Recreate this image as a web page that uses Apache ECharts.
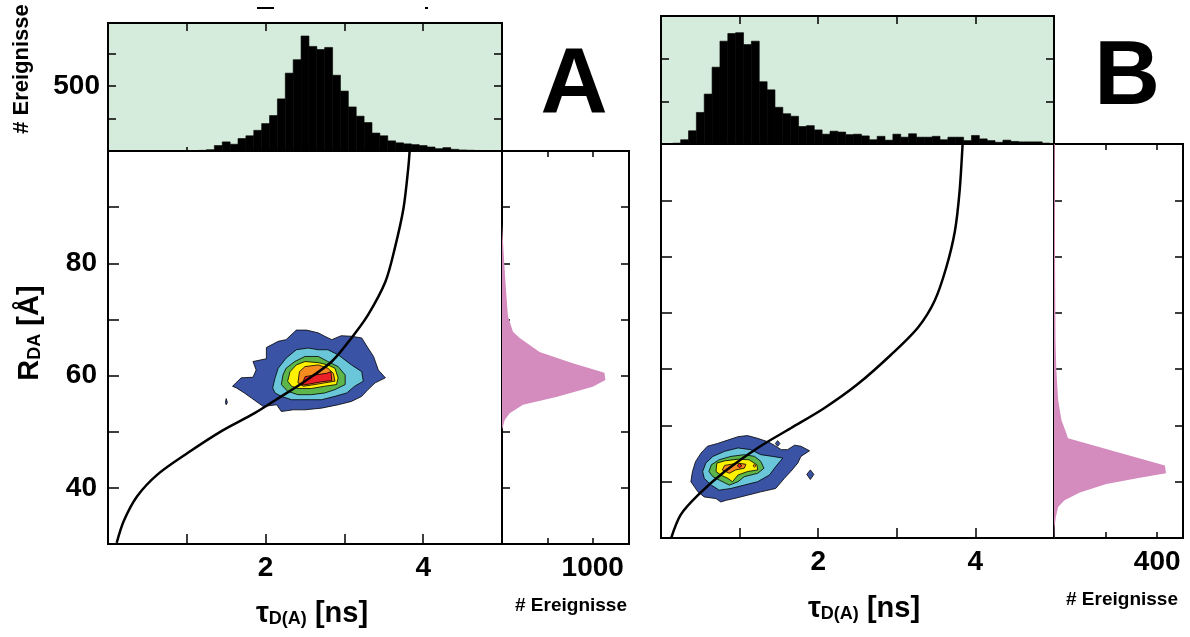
<!DOCTYPE html>
<html>
<head>
<meta charset="utf-8">
<script src="https://cdn.jsdelivr.net/npm/echarts@6/dist/echarts.min.js"></script>
<style>
  html, body { margin: 0; padding: 0; background: #fff; }
  #chart { width: 1190px; height: 637px; }
</style>
</head>
<body>
<div id="chart"></div>
<script>
// 直方图的 bin 中心 (ns)
const tauBins = [0.1, 0.2, 0.3, 0.4, 0.5, 0.6, 0.7, 0.8, 0.9, 1.0, 1.1, 1.2, 1.3, 1.4, 1.5, 1.6, 1.7, 1.8, 1.9,
  2.0, 2.1, 2.2, 2.3, 2.4, 2.5, 2.6, 2.7, 2.8, 2.9, 3.0, 3.1, 3.2, 3.3, 3.4, 3.5, 3.6, 3.7, 3.8, 3.9,
  4.0, 4.1, 4.2, 4.3, 4.4, 4.5, 4.6, 4.7, 4.8, 4.9];
const binWidth = 0.1;

// A: 上方直方图
const histA = [0, 0, 0, 0, 0, 0, 0, 0, 0, 0, 2, 5, 10, 42, 70, 52, 96, 117, 159,
  211, 273, 401, 599, 703, 885, 805, 781, 797, 583, 461, 339, 268, 219, 138, 117, 78, 63, 55, 49,
  42, 31, 18, 26, 13, 8, 6, 4, 3, 2];
// B: 上方直方图
const histB = [0, 2, 10, 31, 74, 117, 180, 241, 259, 261, 233, 241, 146, 127, 86, 71, 65, 41, 43,
  33, 23, 30, 28, 22, 23, 19, 10, 18, 9, 23, 16, 24, 16, 16, 18, 10, 16, 16, 8,
  20, 12, 8, 4, 9, 6, 5, 5, 5, 2];

// 右侧 R_DA 分布
const profA_R = [87, 80, 75, 70.5, 67.8, 66.7, 64.2, 62.2, 60.5, 59.2, 58.0, 56.2, 54.8, 53.3, 52.1, 50.9, 50.3];
const profA_n = [0, 25, 45, 66, 121, 195, 414, 780, 1129, 1140, 1000, 598, 231, 85, 30, 10, 0];
const profB_R = [100, 80, 65, 59.9, 54.5, 50.9, 48.6, 47.7, 42.9, 41.5, 40.7, 39.6, 38.1, 36.7, 35.5, 33.7, 31.9, 30];
const profB_n = [3, 4, 6, 9, 16, 29, 48, 54, 430, 434, 333, 203, 100, 41, 16, 7, 2, 1];

// 静态 FRET 线
const curveA_tau = [0.11, 0.20, 0.37, 0.63, 1.01, 1.44, 1.86, 2.20, 2.50, 2.84, 3.09, 3.30, 3.52, 3.64, 3.75, 3.81, 3.83];
const curveA_R = [30.2, 34.1, 38.5, 42.4, 46.2, 50.1, 53.3, 56.3, 59.0, 62.5, 66.7, 70.8, 76.7, 82.7, 89.8, 96.9, 100.4];
const curveB_tau = [0.13, 0.25, 0.47, 0.81, 1.23, 1.65, 2.08, 2.50, 2.93, 3.27, 3.48, 3.63, 3.74, 3.80, 3.84];
const curveB_R = [30, 34.1, 37.6, 41.8, 46.0, 49.5, 53.1, 57.3, 62.6, 67.4, 72.1, 78.1, 84.6, 91.8, 100.7];

// 等高线 (tau, R)
const blueA = [[1.58,58.1],[1.69,59.6],[1.84,59.7],[1.88,61.0],[1.84,62.5],[2.01,63.0],[2.01,65.0],[2.16,66.1],[2.26,66.4],
  [2.39,68.1],[2.52,68.1],[2.67,67.6],[2.75,67.0],[2.84,66.4],[2.96,67.1],[3.09,67.0],[3.22,66.7],[3.30,64.9],[3.37,63.4],
  [3.43,61.0],[3.52,59.6],[3.39,58.7],[3.30,57.5],[3.22,56.3],[3.09,55.4],[2.92,54.8],[2.71,54.2],[2.50,53.9],[2.35,53.9],
  [2.20,53.6],[2.14,54.8],[1.97,54.5],[1.82,56.0],[1.73,56.9],[1.63,57.8]];
const dotA = [[1.49,55.2],[1.50,55.9],[1.515,55.2],[1.50,54.8]];
const cyanA = [[2.09,57.8],[2.12,59.6],[2.16,61.3],[2.26,63.1],[2.39,64.6],[2.54,64.9],[2.67,64.6],[2.79,64.6],[2.92,63.7],
  [3.09,61.9],[3.22,60.7],[3.24,59.0],[3.13,58.1],[3.03,56.9],[2.88,56.3],[2.71,55.7],[2.50,55.7],[2.33,55.7],[2.20,56.3],[2.12,56.9]];
const greenA = [[2.20,58.4],[2.22,60.1],[2.26,61.3],[2.37,62.5],[2.50,63.4],[2.67,63.4],[2.79,62.5],[2.92,61.6],[3.01,60.1],
  [3.01,58.4],[2.88,57.5],[2.75,56.9],[2.58,56.6],[2.41,56.6],[2.28,57.2]];
const yellowA = [[2.28,59.0],[2.31,60.7],[2.39,61.9],[2.50,62.5],[2.67,62.3],[2.79,61.9],[2.88,61.3],[2.92,59.6],[2.90,58.4],
  [2.75,58.1],[2.58,57.7],[2.41,57.7],[2.33,58.1]];
const orangeA = [[2.41,58.7],[2.43,60.7],[2.50,61.6],[2.67,61.9],[2.79,61.3],[2.86,60.4],[2.88,59.0],[2.75,58.7],[2.58,58.3],[2.48,58.1]];
const redA = [[2.46,58.3],[2.50,59.8],[2.62,60.1],[2.77,60.4],[2.83,60.7],[2.84,59.1],[2.71,58.9],[2.56,58.5]];

const blueB = [[0.38,40.0],[0.40,41.8],[0.44,43.6],[0.51,45.1],[0.59,46.3],[0.72,46.8],[0.85,47.4],[0.98,48.0],[1.10,48.2],
  [1.23,47.7],[1.36,47.1],[1.44,46.5],[1.53,45.7],[1.61,45.7],[1.70,46.5],[1.78,46.3],[1.89,45.5],[1.78,44.5],[1.74,43.3],
  [1.65,41.8],[1.57,40.6],[1.46,38.8],[1.27,38.2],[1.10,37.6],[0.93,37.0],[0.83,36.7],[0.76,36.4],[0.70,37.0],[0.55,37.3],[0.47,38.2]];
const dotB1 = [[1.455,46.8],[1.484,47.3],[1.513,46.8],[1.484,46.3]];
const dotB2 = [[1.855,41.3],[1.90,42.1],[1.945,41.3],[1.90,40.4]];
const cyanB = [[0.53,41.8],[0.57,43.3],[0.66,44.5],[0.81,45.4],[0.98,46.0],[1.14,45.7],[1.27,44.8],[1.42,44.5],[1.55,44.2],
  [1.46,42.7],[1.38,41.2],[1.23,40.0],[1.06,39.4],[0.89,38.8],[0.74,38.5],[0.64,39.4],[0.55,40.6]];
const greenB = [[0.61,41.8],[0.64,43.0],[0.74,43.9],[0.89,44.5],[1.06,44.8],[1.19,44.5],[1.27,43.6],[1.31,42.4],[1.23,41.5],
  [1.06,40.9],[0.98,40.0],[0.87,39.4],[0.74,40.3],[0.66,40.9]];
const yellowB = [[0.70,41.8],[0.71,43.3],[0.81,43.7],[0.98,44.0],[1.12,43.9],[1.22,43.0],[1.23,42.1],[1.10,41.8],[0.98,41.2],
  [0.91,40.0],[0.85,40.6],[0.76,41.2]];
const orangeB = [[0.78,42.1],[0.81,42.9],[0.98,43.3],[1.08,43.1],[1.06,42.4],[0.95,42.1],[0.87,41.5]];
const orangeB2 = [[1.17,42.85],[1.19,43.1],[1.21,42.85],[1.19,42.6]];
const redB = [[0.97,42.85],[1.00,43.2],[1.03,42.85],[1.00,42.5]];

// 刻度标签
const tauLabels = [2, 4];
const rLabels = [40, 60, 80];
const histALabels = [500];
const profALabels = [1000];
const profBLabels = [400];

(function () {
    const FONT = '"Liberation Sans", Arial, sans-serif';
    const BLUE = '#3a53a4', CYAN = '#69c7d9', GREEN = '#5db64b', YELLOW = '#fff200', ORANGE = '#f68b1f', RED = '#ec2027';
    const PINK = '#d48bbd', MINT = '#d5ebdb';
    const my_echart = echarts.init(document.getElementById('chart'));

    const grids = [], xAxes = [], yAxes = [], series = [];
    function addGrid(left, top, width, height, bg) {
        grids.push({ left, top, width, height, show: true, borderColor: '#000', borderWidth: 2, backgroundColor: bg || 'transparent' });
        return grids.length - 1;
    }
    function axis(gi, pos, min, max, interval, tickLen, labels, margin) {
        return {
            type: 'value', gridIndex: gi, position: pos, min, max, interval,
            axisLine: { show: false, onZero: false }, splitLine: { show: false },
            axisTick: { show: tickLen > 0, inside: true, length: tickLen, lineStyle: { color: '#000', width: 1.5 } },
            axisLabel: {
                show: labels.length > 0, margin: margin || 10, color: '#000', fontFamily: FONT, fontWeight: 'bold', fontSize: 28,
                formatter: v => labels.indexOf(v) >= 0 ? String(v) : ''
            }
        };
    }
    // 一组面板: 上方直方图 + 主图 + 右侧分布
    function panel(x0, topY, mainY, w, h, rightW, histMax, histInterval, histLabels, profMax, profInterval, profLabels, rLab) {
        const gTop = addGrid(x0, topY, w, mainY - topY, MINT);
        const gMain = addGrid(x0, mainY, w, h);
        const gRight = addGrid(x0 + w, mainY, rightW, h);
        const ix = xAxes.length, iy = yAxes.length;
        xAxes.push(axis(gTop, 'bottom', 0, 5, 1, 4, []));
        xAxes.push(axis(gTop, 'top', 0, 5, 1, 8, []));
        xAxes.push(axis(gMain, 'bottom', 0, 5, 1, 10, tauLabels, 10));
        xAxes.push(axis(gMain, 'top', 0, 5, 1, 0, []));
        xAxes.push(axis(gRight, 'bottom', 0, profMax, profInterval, 6, profLabels, 10));
        xAxes.push(axis(gRight, 'top', 0, profMax, profInterval, 6, []));
        yAxes.push(axis(gTop, 'left', 0, histMax, histInterval, 8, histLabels, 8));
        yAxes.push(axis(gTop, 'right', 0, histMax, histInterval, 8, []));
        yAxes.push(axis(gMain, 'left', 30, 100, 10, 11, rLab, 11));
        yAxes.push(axis(gMain, 'right', 30, 100, 10, 0, []));
        yAxes.push(axis(gRight, 'left', 30, 100, 10, 8, []));
        yAxes.push(axis(gRight, 'right', 30, 100, 10, 8, []));
        return { top: [ix, iy], main: [ix + 2, iy + 2], right: [ix + 4, iy + 4] };
    }

    function histSeries(ax, values) {
        return {
            type: 'custom', xAxisIndex: ax[0], yAxisIndex: ax[1], silent: true,
            data: tauBins.map((c, i) => [c, values[i]]),
            renderItem: function (params, api) {
                const c = api.value(0), v = api.value(1);
                if (!v) return { type: 'group', children: [] };
                const p0 = api.coord([c - binWidth / 2, v]);
                const p1 = api.coord([c + binWidth / 2, 0]);
                return {
                    type: 'rect',
                    shape: { x: p0[0], y: p0[1], width: p1[0] - p0[0], height: p1[1] - p0[1] },
                    style: { fill: '#000', stroke: '#000', lineWidth: 0.6 }
                };
            }
        };
    }
    function profileSeries(ax, rs, ns) {
        return {
            type: 'custom', xAxisIndex: ax[0], yAxisIndex: ax[1], silent: true,
            data: [[ns[0], rs[0]]],
            renderItem: function (params, api) {
                const pts = [api.coord([0, rs[0]])];
                rs.forEach((r, i) => pts.push(api.coord([ns[i], r])));
                pts.push(api.coord([0, rs[rs.length - 1]]));
                return { type: 'polygon', shape: { points: pts }, style: { fill: PINK } };
            }
        };
    }
    function contourSeries(ax, shapes, colors) {
        return {
            type: 'custom', xAxisIndex: ax[0], yAxisIndex: ax[1], silent: true,
            data: shapes.map(s => s[0]),
            renderItem: function (params, api) {
                const pts = shapes[params.dataIndex].map(p => api.coord(p));
                return {
                    type: 'polygon', shape: { points: pts },
                    style: { fill: colors[params.dataIndex], stroke: '#000', lineWidth: 0.8 }
                };
            }
        };
    }
    function curveSeries(ax, taus, rs) {
        return {
            type: 'line', xAxisIndex: ax[0], yAxisIndex: ax[1], silent: true, z: 5,
            data: taus.map((t, i) => [t, rs[i]]),
            smooth: 0.3, symbol: 'none', clip: true,
            lineStyle: { color: '#000', width: 2.5 }
        };
    }

    const pA = panel(108, 23, 151, 394, 393, 127, 985, 250, histALabels, 1400, 500, profALabels, rLabels);
    const pB = panel(661, 16, 144, 393, 394, 129, 300, 100, [], 500, 200, profBLabels, []);

    series.push(histSeries(pA.top, histA));
    series.push(contourSeries(pA.main, [blueA, dotA, cyanA, greenA, yellowA, orangeA, redA],
        [BLUE, BLUE, CYAN, GREEN, YELLOW, ORANGE, RED]));
    series.push(curveSeries(pA.main, curveA_tau, curveA_R));
    series.push(profileSeries(pA.right, profA_R, profA_n));

    series.push(histSeries(pB.top, histB));
    series.push(contourSeries(pB.main, [blueB, dotB1, dotB2, cyanB, greenB, yellowB, orangeB, orangeB2, redB],
        [BLUE, BLUE, BLUE, CYAN, GREEN, YELLOW, ORANGE, ORANGE, RED]));
    series.push(curveSeries(pB.main, curveB_tau, curveB_R));
    series.push(profileSeries(pB.right, profB_R, profB_n));

    function label(x, y, text, size, rotation) {
        return {
            type: 'text', x, y, rotation: rotation || 0, silent: true,
            style: { text, fill: '#000', font: 'bold ' + size + 'px ' + FONT, align: 'center', verticalAlign: 'middle', textAlign: 'center', textVerticalAlign: 'middle' }
        };
    }
    function richLabel(x, y, main, sub, rest, rotation) {
        return {
            type: 'text', x, y, rotation: rotation || 0, silent: true,
            style: {
                text: '{m|' + main + '}{s|' + sub + '}{m|' + rest + '}',
                align: 'center', verticalAlign: 'middle', textAlign: 'center', textVerticalAlign: 'middle',
                rich: {
                    m: { fontFamily: FONT, fontWeight: 'bold', fontSize: 29, fill: '#000', color: '#000' },
                    s: { fontFamily: FONT, fontWeight: 'bold', fontSize: 18, fill: '#000', color: '#000', verticalAlign: 'bottom' }
                }
            }
        };
    }

    let option = {
        animation: false,
        grid: grids,
        xAxis: xAxes,
        yAxis: yAxes,
        series: series,
        graphic: [
            label(22, 69, '# Ereignisse', 22, Math.PI / 2),
            label(574, 86, 'A', 93),
            label(1127, 79, 'B', 91),
            richLabel(312, 614, 'τ', 'D(A)', ' [ns]'),
            richLabel(864, 609, 'τ', 'D(A)', ' [ns]'),
            richLabel(30, 333, 'R', 'DA', ' [Å]', Math.PI / 2),
            label(571, 606, '# Ereignisse', 19),
            label(1122, 600, '# Ereignisse', 19),
            { type: 'rect', shape: { x: 257, y: 7, width: 17, height: 2 }, style: { fill: '#000' }, silent: true },
            { type: 'rect', shape: { x: 425, y: 7, width: 3, height: 2 }, style: { fill: '#000' }, silent: true }
        ]
    };
    my_echart.setOption(option);
    window.addEventListener('resize', function () {
        my_echart.resize();
    });
})();
</script>
</body>
</html>
